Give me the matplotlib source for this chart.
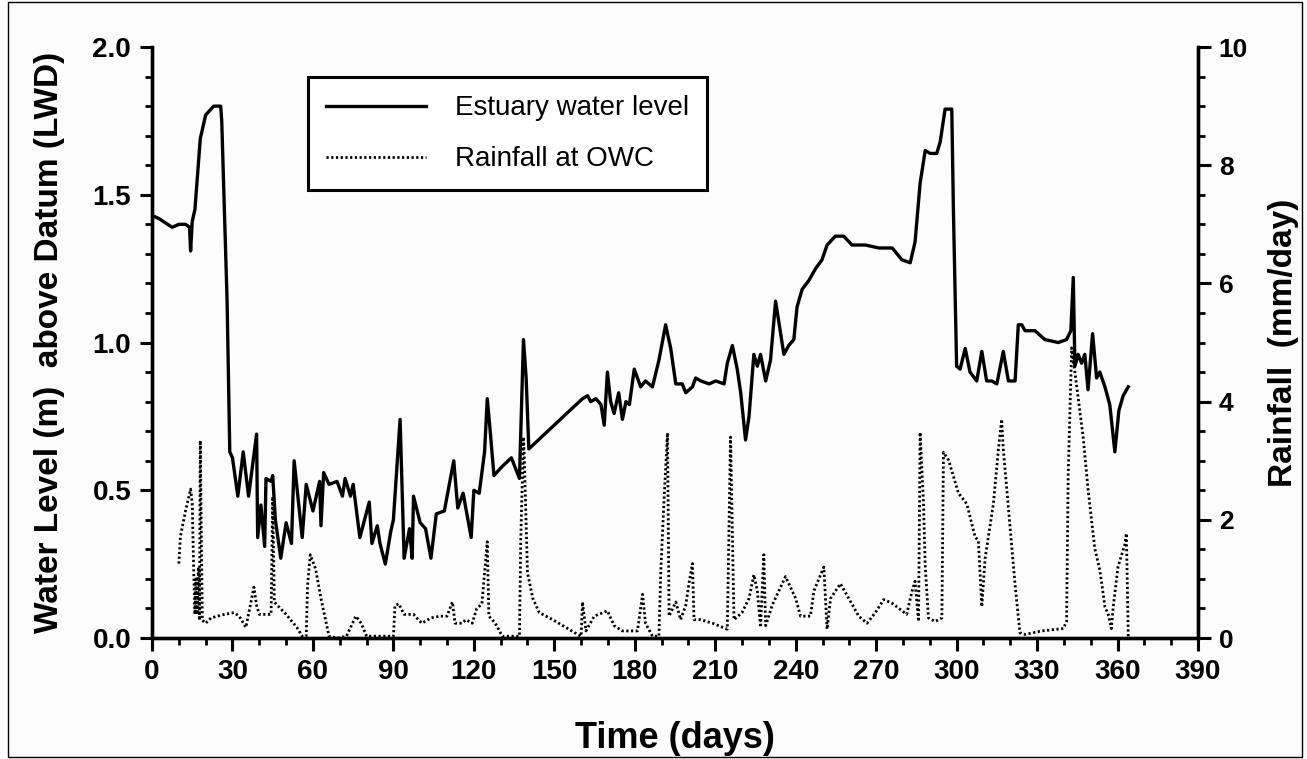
import matplotlib.pyplot as plt
from matplotlib.ticker import MultipleLocator
from matplotlib.patches import Rectangle

# estuary water level (m above LWD)
level_days = [0, 2.5, 7.5, 10, 12.5, 14, 14.4, 15, 16, 18, 20, 23, 25.6, 26, 28, 29, 30, 32, 34, 36,
              39, 39.4, 40.6, 42, 42.5, 44.4, 45, 46, 48, 50, 52, 53, 56, 57.5, 60, 62.5, 63, 64, 66, 69,
              71, 72, 74, 75, 77.5, 81, 82, 84, 85, 87, 89, 90, 92.5, 94, 96, 97, 97.5, 100, 102, 104,
              106, 109, 112.5, 114, 116, 119, 120, 122, 124, 125, 126, 127.5, 130.5, 134, 137, 138.5,
              139.5, 140.5, 160.5, 162.4, 163.6, 165.5, 167.4, 168.6, 169.8, 171, 172.3, 174, 175.4,
              176.7, 178, 179.8, 182.2, 184, 186.6, 189, 191.5, 193.4, 195.3, 197.7, 199, 201.5, 202.7,
              204.6, 207.7, 210.2, 213.3, 214.5, 216.4, 218.2, 219.5, 221.3, 222.6, 224.4, 225.7, 226.9,
              228.8, 230.6, 232.5, 233.7, 235.6, 237.4, 239.3, 240.5, 242.4, 244.9, 247.4, 249.8, 251.7,
              254.8, 257.9, 261, 266, 271, 276, 279.6, 282.7, 284.5, 286.4, 288.3, 290.1, 292.6, 293.9,
              295.7, 298.2, 298.8, 300, 301.3, 303.2, 305, 307.5, 309.4, 311.2, 313.1, 315, 317.4, 319.3,
              321.8, 323, 324.3, 325.5, 329.2, 332.9, 337.9, 341, 342.6, 343.5, 344.1, 345.3, 346.6,
              347.8, 349, 350.7, 352.2, 353.4, 355.3, 357.1, 359, 360.5, 362.1, 364]
level_vals = [1.43, 1.42, 1.39, 1.40, 1.40, 1.39, 1.31, 1.41, 1.45, 1.69, 1.77, 1.80, 1.80, 1.75, 1.14,
              0.63, 0.61, 0.48, 0.63, 0.48, 0.69, 0.34, 0.45, 0.31, 0.54, 0.53, 0.55, 0.40, 0.27, 0.39,
              0.32, 0.60, 0.34, 0.52, 0.43, 0.53, 0.38, 0.56, 0.52, 0.53, 0.48, 0.54, 0.48, 0.52, 0.34,
              0.46, 0.32, 0.38, 0.32, 0.25, 0.36, 0.40, 0.74, 0.27, 0.37, 0.27, 0.48, 0.39, 0.37, 0.27,
              0.42, 0.43, 0.60, 0.44, 0.49, 0.34, 0.50, 0.49, 0.63, 0.81, 0.71, 0.55, 0.58, 0.61, 0.54,
              1.01, 0.88, 0.64, 0.81, 0.82, 0.80, 0.81, 0.79, 0.72, 0.90, 0.80, 0.76, 0.83, 0.74, 0.80,
              0.79, 0.91, 0.85, 0.87, 0.85, 0.94, 1.06, 0.98, 0.86, 0.86, 0.83, 0.85, 0.88, 0.87, 0.86,
              0.87, 0.86, 0.93, 0.99, 0.91, 0.83, 0.67, 0.75, 0.96, 0.92, 0.96, 0.87, 0.94, 1.14, 1.07,
              0.96, 0.99, 1.01, 1.12, 1.18, 1.21, 1.25, 1.28, 1.33, 1.36, 1.36, 1.33, 1.33, 1.32, 1.32,
              1.28, 1.27, 1.34, 1.54, 1.65, 1.64, 1.64, 1.68, 1.79, 1.79, 1.45, 0.92, 0.91, 0.98, 0.90,
              0.87, 0.97, 0.87, 0.87, 0.86, 0.97, 0.87, 0.87, 1.06, 1.06, 1.04, 1.04, 1.01, 1.00, 1.01,
              1.04, 1.22, 0.92, 0.96, 0.93, 0.96, 0.84, 1.03, 0.88, 0.90, 0.85, 0.79, 0.63, 0.77, 0.82,
              0.85]

# rainfall at OWC (mm/day)
rain_days = [10, 10.6, 12.5, 14.4, 15, 15.6, 16, 16.4, 16.8, 17.3, 17.7, 18, 18.75, 20, 22, 27, 30.6,
             32.5, 35, 38, 39, 40, 44.4, 45, 45.6, 50, 54, 56, 57.5, 58, 59, 61, 63, 66, 69, 72.5, 76,
             78, 80, 90, 90.6, 92, 94, 97.5, 100.6, 104, 107.5, 110, 112, 113, 115.6, 117, 119.4, 121,
             123, 125, 125.6, 128, 130.6, 137, 137.5, 138.5, 138.8, 140, 142, 144.4, 149.4, 154.3,
             158.7, 160, 160.5, 161.8, 164.9, 169.8, 172.3, 175.4, 181, 182.9, 184, 186.6, 189, 189.7,
             190.9, 192.2, 192.8, 195.3, 197.1, 199, 200.2, 201.5, 202.1, 204.6, 209, 214.5, 215.7,
             217, 220, 222.6, 224.4, 225.7, 226.9, 228.1, 228.8, 231.2, 236.2, 240, 241.8, 245.5,
             246.8, 250.5, 251.7, 253, 256.7, 259.8, 263.5, 266.6, 269.7, 272.8, 275.9, 281.4, 283.3,
             284.5, 285.8, 286.4, 287.6, 288.3, 289.5, 292, 294.5, 295.1, 297, 300.7, 303.8, 306.9,
             308.1, 309.4, 310.6, 313.7, 315.6, 316.8, 317.4, 319.9, 321.8, 323.6, 325.5, 331.7, 339.8,
             341, 341.6, 342.9, 344.1, 345.3, 347.2, 349, 351.5, 353.4, 355.3, 356.5, 357.7, 358.4,
             360.2, 362.7, 363.3, 364]
rain_vals = [1.26, 1.72, 2.15, 2.52, 2.27, 1.04, 0.40, 1.00, 0.40, 1.20, 0.30, 3.34, 0.30, 0.25, 0.34,
             0.40, 0.43, 0.37, 0.18, 0.86, 0.55, 0.40, 0.40, 2.39, 0.61, 0.40, 0.18, 0.03, 0.03, 0.89,
             1.41, 1.17, 0.67, 0.03, 0.00, 0.03, 0.37, 0.25, 0.03, 0.03, 0.55, 0.58, 0.40, 0.40, 0.25,
             0.34, 0.37, 0.37, 0.61, 0.25, 0.25, 0.31, 0.25, 0.49, 0.58, 1.63, 0.37, 0.25, 0.03, 0.03,
             1.69, 3.40, 3.07, 1.10, 0.67, 0.43, 0.31, 0.18, 0.06, 0.03, 0.61, 0.12, 0.37, 0.46, 0.21,
             0.12, 0.12, 0.74, 0.25, 0.03, 0.03, 1.13, 2.33, 3.47, 0.37, 0.61, 0.31, 0.55, 0.92, 1.26,
             0.31, 0.31, 0.25, 0.15, 3.40, 0.31, 0.43, 0.67, 1.07, 0.80, 0.18, 1.41, 0.21, 0.55, 1.04,
             0.67, 0.37, 0.37, 0.80, 1.20, 0.15, 0.67, 0.92, 0.67, 0.37, 0.25, 0.43, 0.65, 0.59, 0.40,
             0.78, 0.96, 0.28, 3.48, 2.33, 1.21, 0.34, 0.28, 0.34, 3.14, 3.01, 2.45, 2.27, 1.71, 1.65,
             0.53, 1.34, 2.27, 3.20, 3.70, 3.20, 1.89, 0.90, 0.09, 0.06, 0.12, 0.16, 0.28, 2.76, 4.91,
             4.50, 4.07, 3.39, 2.52, 1.52, 1.15, 0.53, 0.40, 0.16, 0.53, 1.21, 1.58, 1.77, 0.03]

plt.rcParams['font.family'] = ['Liberation Sans', 'DejaVu Sans']

fig = plt.figure(figsize=(13.07, 7.59), dpi=100, facecolor='#fcfcfc')
ax = fig.add_axes([0.1163, 0.1594, 0.8003, 0.7786])
ax.set_facecolor('none')
ax2 = ax.twinx()

l1, = ax.plot(level_days, level_vals, color='black', lw=2.4, label='Estuary water level')
l2, = ax2.plot(rain_days, rain_vals, color='black', lw=2.0, linestyle=(0, (0.8, 0.9)),
               label='Rainfall at OWC')

ax.set_xlim(0, 390)
ax.set_ylim(0, 2.0)
ax2.set_ylim(0, 10)

ax.xaxis.set_major_locator(MultipleLocator(30))
ax.xaxis.set_minor_locator(MultipleLocator(10))
ax.yaxis.set_major_locator(MultipleLocator(0.5))
ax.yaxis.set_minor_locator(MultipleLocator(0.1))
ax2.yaxis.set_major_locator(MultipleLocator(2))
ax2.yaxis.set_minor_locator(MultipleLocator(0.5))
ax.yaxis.set_major_formatter('{x:.1f}')

for a in (ax, ax2):
    a.spines['top'].set_visible(False)
    for s in a.spines.values():
        s.set_linewidth(2.4)
    a.tick_params(which='major', direction='out', length=9, width=2.2, labelsize=20, pad=6)
    a.tick_params(which='minor', direction='out', length=5, width=2.0)
    for lab in a.get_xticklabels() + a.get_yticklabels():
        lab.set_fontweight('bold')
ax2.tick_params(which='major', labelsize=19)

ax.set_xlabel('Time (days)', fontsize=26, fontweight='bold', labelpad=26)
ax.set_ylabel('Water Level (m)  above Datum (LWD)', fontsize=24, fontweight='bold', labelpad=20)
ax2.set_ylabel('Rainfall  (mm/day)', fontsize=24, fontweight='bold', labelpad=14)

leg = ax.legend(handles=[l1, l2], loc='upper left', bbox_to_anchor=(0.149, 0.949),
                fontsize=20, frameon=True, fancybox=False, handlelength=3.6,
                handletextpad=1.05, labelspacing=0.9, borderpad=0.65, borderaxespad=0)
leg.get_frame().set_edgecolor('black')
leg.get_frame().set_linewidth(2.2)
leg.get_frame().set_facecolor('white')
leg.get_frame().set_alpha(1)
ax.set_zorder(ax2.get_zorder() + 1)

fig.patches.append(Rectangle((0.006, 0.002), 0.99, 0.995, transform=fig.transFigure,
                             fill=False, edgecolor='black', lw=1.0))

fig.savefig('out.png', dpi=100, facecolor=fig.get_facecolor())
